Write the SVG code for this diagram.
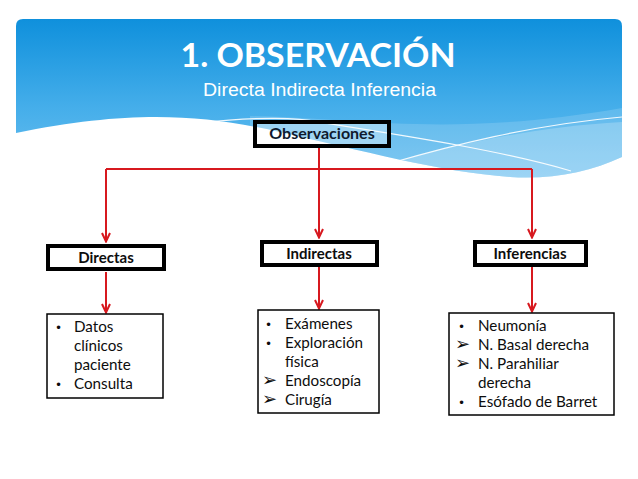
<svg xmlns="http://www.w3.org/2000/svg" width="638" height="479" viewBox="0 0 638 479">
<defs>
<linearGradient id="bg" x1="0" y1="19" x2="0" y2="180" gradientUnits="userSpaceOnUse">
<stop offset="0" stop-color="#0f90dc"/>
<stop offset="0.55" stop-color="#45aeea"/>
<stop offset="1" stop-color="#6cc0f0"/>
</linearGradient>
<clipPath id="hdr">
<path d="M16,26 Q16,19 23,19 L615,19 Q622,19 622,26 L622,157 C590,172 550,180 510,177 C440,172 360,150 280,132 C200,114 130,110 16,133 Z"/>
</clipPath>
<marker id="ah" viewBox="0 0 12 10" refX="11" refY="5" markerWidth="12" markerHeight="10" markerUnits="userSpaceOnUse" orient="auto">
<path d="M2,1 L10.5,5 L2,9" fill="none" stroke="#d7191f" stroke-width="2"/>
</marker>
<style>
.cat{fill:#ffffff;stroke:#000;stroke-width:4}
.lst{fill:#ffffff;stroke:#000;stroke-width:1.5}
.ct{font-family:Lato,"Open Sans",sans-serif;font-weight:bold;font-size:15px;fill:#0d0d0d;text-anchor:middle}
.tx{font-family:Lato,"Open Sans",sans-serif;font-size:15.2px;fill:#0d0d0d}
.bl{font-family:"DejaVu Sans",sans-serif;font-size:12px;fill:#0d0d0d}
.ar{font-family:"DejaVu Sans",sans-serif;font-size:18px;fill:#0d0d0d}
.cn{fill:none;stroke:#d7191f;stroke-width:2}
</style>
</defs>
<g id="header">
<g clip-path="url(#hdr)">
<rect x="16" y="19" width="606" height="170" fill="url(#bg)"/>
<path d="M250,116 C360,118 450,138 622,108 L622,190 L250,190 Z" fill="#ffffff" opacity="0.15"/>
<path d="M391,163 C450,146 530,127 622,122 L622,190 L391,190 Z" fill="#ffffff" opacity="0.22"/>
<path d="M200,123 C260,116 300,118 318,122 C400,135 500,150 571,171" fill="none" stroke="#ffffff" stroke-width="1.2" opacity="0.9"/>
<path d="M391,163 C450,146 530,125 622,117" fill="none" stroke="#ffffff" stroke-width="1.2" opacity="0.9"/>
</g>
<text x="318" y="67" font-family="Lato,'Open Sans',sans-serif" font-weight="bold" font-size="33" fill="#ffffff" text-anchor="middle" textLength="275" lengthAdjust="spacingAndGlyphs">1. OBSERVACIÓN</text>
<text x="319.5" y="96" font-family="'Liberation Sans',Arial,sans-serif" font-size="18" fill="#ffffff" text-anchor="middle" textLength="233" lengthAdjust="spacingAndGlyphs">Directa Indirecta Inferencia</text>
</g>
<g id="connectors">
<path class="cn" d="M319,147 L319,169"/>
<path class="cn" d="M106,169 L532,169"/>
<path class="cn" d="M106,169 L106,242" marker-end="url(#ah)"/>
<path class="cn" d="M319,169 L319,238" marker-end="url(#ah)"/>
<path class="cn" d="M532,169 L532,238" marker-end="url(#ah)"/>
<path class="cn" d="M106,272 L106,313" marker-end="url(#ah)"/>
<path class="cn" d="M319,267 L319,309" marker-end="url(#ah)"/>
<path class="cn" d="M532,267 L532,312" marker-end="url(#ah)"/>
</g>
<g id="observaciones">
<rect x="255" y="122" width="134" height="24" fill="#ffffff" fill-opacity="0.35" stroke="#000" stroke-width="4"/>
<text class="ct" x="322" y="139" style="fill:#0f1a2e;font-size:16px">Observaciones</text>
</g>
<g id="directas">
<rect class="cat" x="48" y="246" width="116" height="23"/>
<text class="ct" x="106" y="263">Directas</text>
</g>
<g id="indirectas">
<rect class="cat" x="262" y="242" width="115" height="23"/>
<text class="ct" x="319" y="259">Indirectas</text>
</g>
<g id="inferencias">
<rect class="cat" x="475" y="242" width="111" height="23"/>
<text class="ct" x="530" y="259">Inferencias</text>
</g>
<g id="lista-directas">
<rect class="lst" x="47" y="314" width="116" height="84"/>
<text class="bl" x="55" y="332">•</text>
<text class="tx" x="74" y="332">Datos</text>
<text class="tx" x="74" y="351">clínicos</text>
<text class="tx" x="74" y="370">paciente</text>
<text class="bl" x="55" y="389">•</text>
<text class="tx" x="74" y="389">Consulta</text>
</g>
<g id="lista-indirectas">
<rect class="lst" x="258" y="310" width="121" height="103"/>
<text class="bl" x="265" y="329">•</text>
<text class="tx" x="285" y="329">Exámenes</text>
<text class="bl" x="265" y="348">•</text>
<text class="tx" x="285" y="348">Exploración</text>
<text class="tx" x="285" y="367">física</text>
<text class="ar" x="262" y="386">➢</text>
<text class="tx" x="285" y="386">Endoscopía</text>
<text class="ar" x="262" y="405">➢</text>
<text class="tx" x="285" y="405">Cirugía</text>
</g>
<g id="lista-inferencias">
<rect class="lst" x="449" y="313" width="165" height="102"/>
<text class="bl" x="458" y="331">•</text>
<text class="tx" x="478" y="331">Neumonía</text>
<text class="ar" x="455" y="350">➢</text>
<text class="tx" x="478" y="350">N. Basal derecha</text>
<text class="ar" x="455" y="369">➢</text>
<text class="tx" x="478" y="369">N. Parahiliar</text>
<text class="tx" x="478" y="388">derecha</text>
<text class="bl" x="458" y="407">•</text>
<text class="tx" x="478" y="407">Esófado de Barret</text>
</g>
</svg>
